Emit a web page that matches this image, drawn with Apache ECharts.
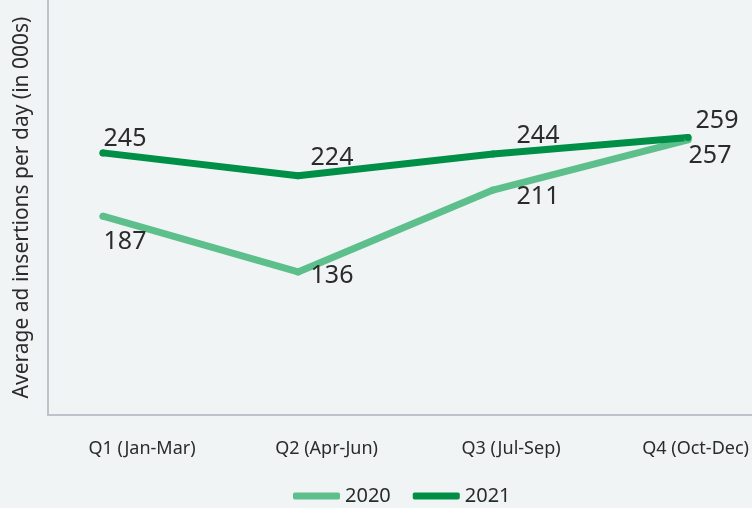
<!DOCTYPE html>
<html>
<head>
<meta charset="utf-8">
<style>
  html, body { margin: 0; padding: 0; background: #f1f4f5; }
  #chart-container { width: 752px; height: 508px; }
</style>
<script src="https://cdn.jsdelivr.net/npm/echarts@6/dist/echarts.min.js"></script>
</head>
<body>
<div id="chart-container"></div>
<script>
var categories = ['Q1 (Jan-Mar)', 'Q2 (Apr-Jun)', 'Q3 (Jul-Sep)', 'Q4 (Oct-Dec)'];
var values2020 = [187, 136, 211, 257];
var values2021 = [245, 224, 244, 259];
var yName = 'Average ad insertions per day (in 000s)';

// label offsets from each point (style only)
var labelOffsets2020 = [[22, 26], [34, 4], [45, 7], [22, 16]];
var labelOffsets2021 = [[22, -14], [34, -18], [45, -18], [29, -17]];

var dom = document.getElementById('chart-container');
var myChart = echarts.init(dom, null, { renderer: 'canvas' });

var font = 'Noto Sans';
var textColor = '#2b2b2b';
var axisColor = '#bcc3ca';

var withOffsets = (values, offsets) =>
  values.map((v, i) => ({ value: v, label: { offset: offsets[i] } }));

var makeSeries = (name, values, offsets, color) => ({
  name: name,
  type: 'line',
  xAxisIndex: 1,
  yAxisIndex: 1,
  data: withOffsets(values, offsets),
  symbol: 'circle',
  symbolSize: 7,
  itemStyle: { color: color },
  lineStyle: { color: color, width: 7, cap: 'round', join: 'round' },
  label: {
    show: true,
    position: 'inside',
    color: textColor,
    fontFamily: font,
    fontSize: 25,
  },
  emphasis: { disabled: true },
});

var option = {
  backgroundColor: '#f1f4f5',
  animation: false,
  textStyle: { fontFamily: font },
  legend: {
    left: 293,
    top: 486,
    padding: 0,
    itemWidth: 47,
    itemHeight: 7,
    itemGap: 22,
    icon: 'roundRect',
    textStyle: { color: textColor, fontSize: 20, fontFamily: font },
    data: ['2020', '2021'],
  },
  grid: [
    // frame (axis lines + y name)
    { left: 48, top: 0, right: 0, bottom: 93 },
    // data
    { left: 103, right: 64, top: 0, bottom: 93 },
    // category labels
    { left: 142, right: 55, top: 0, bottom: 93 },
  ],
  xAxis: [
    {
      gridIndex: 0,
      type: 'category',
      data: categories,
      axisLine: { show: true, lineStyle: { color: axisColor, width: 2 } },
      axisTick: { show: false },
      axisLabel: { show: false },
    },
    {
      gridIndex: 1,
      type: 'category',
      data: categories,
      boundaryGap: false,
      show: false,
    },
    {
      gridIndex: 2,
      type: 'category',
      data: categories,
      boundaryGap: false,
      axisLine: { show: false },
      axisTick: { show: false },
      axisLabel: { color: textColor, fontSize: 18, fontFamily: font, margin: 25 },
    },
  ],
  yAxis: [
    {
      gridIndex: 0,
      type: 'value',
      min: 5,
      max: 385,
      axisLine: { show: true, lineStyle: { color: axisColor, width: 2 } },
      axisTick: { show: false },
      axisLabel: { show: false },
      splitLine: { show: false },
      name: yName,
      nameLocation: 'middle',
      nameGap: 15,
      nameTextStyle: { color: textColor, fontSize: 21, fontFamily: font },
    },
    {
      gridIndex: 1,
      type: 'value',
      min: 5,
      max: 385,
      show: false,
      splitLine: { show: false },
    },
    {
      gridIndex: 2,
      type: 'value',
      min: 5,
      max: 385,
      show: false,
      splitLine: { show: false },
    },
  ],
  series: [
    makeSeries('2020', values2020, labelOffsets2020, '#5dbf8c'),
    makeSeries('2021', values2021, labelOffsets2021, '#008f47'),
  ],
};

myChart.setOption(option);
window.addEventListener('resize', myChart.resize);
</script>
</body>
</html>
